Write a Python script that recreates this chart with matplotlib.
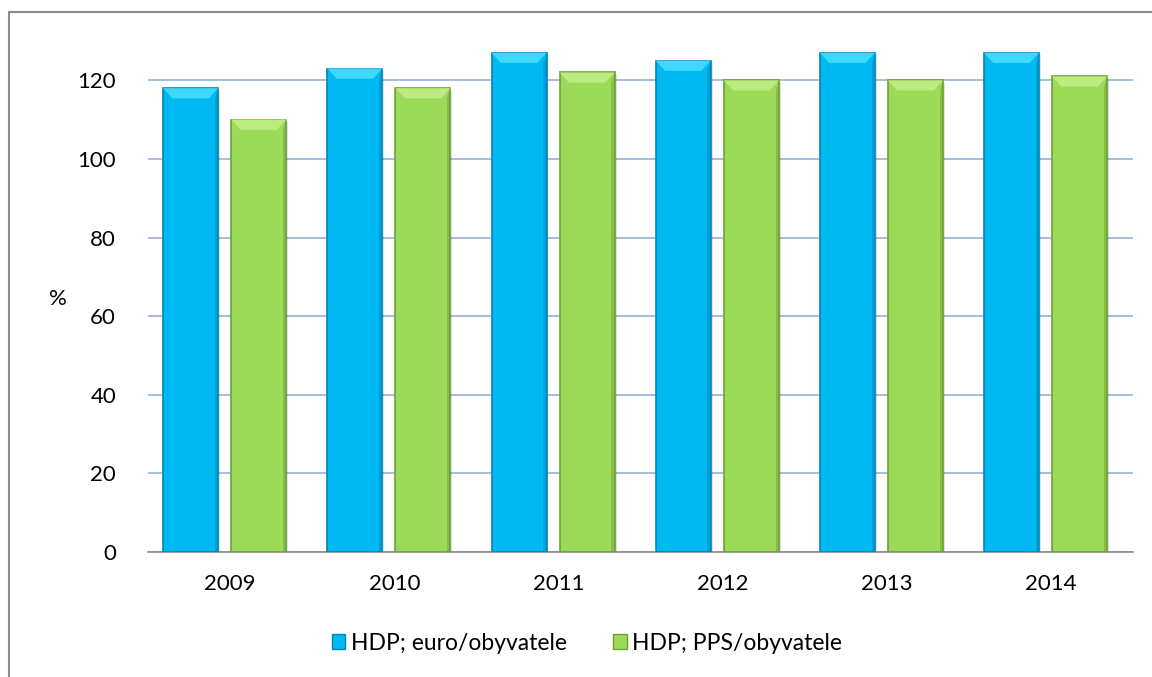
import matplotlib
matplotlib.use("Agg")
import matplotlib.pyplot as plt
from matplotlib.patches import Polygon, Rectangle, Patch
import numpy as np

years = ["2009", "2010", "2011", "2012", "2013", "2014"]
euro_per_capita = [118, 123, 127, 125, 127, 127]
pps_per_capita = [110, 118, 122, 120, 120, 121]
yticks = [0, 20, 40, 60, 80, 100, 120]
series_labels = ["HDP; euro/obyvatele", "HDP; PPS/obyvatele"]

BLUE = "#00B9F2"
BLUE_DARK = "#0086B5"
BLUE_CAP = "#3FD8FA"
GREEN = "#9BDB57"
GREEN_DARK = "#6E9F35"
GREEN_CAP = "#BCEB82"

plt.rcParams["font.family"] = ["Lato", "DejaVu Sans"]

fig = plt.figure(figsize=(11.52, 6.77), dpi=100)
ax = fig.add_axes([148 / 1152, 1 - 552 / 677, (1133 - 148) / 1152, (552 - 41) / 677])

# outer chart border (only top and left visible in the reference)
fig.patches.append(Rectangle((9 / 1152, -0.1), 1.2, 1 - 12 / 677 + 0.1,
                             transform=fig.transFigure, fill=False,
                             edgecolor="#8C8C8C", linewidth=1.5))

x = np.arange(len(years))
width = 0.335
offsets = [-0.24, 0.175]


def bevel_bars(xs, values, face, edge, cap):
    bars = ax.bar(xs, values, width=width, color=face, edgecolor=edge,
                  linewidth=1.2, zorder=3)
    # soft shadow
    ax.bar(xs + 0.012, values, width=width, color="#000000", alpha=0.12,
           zorder=2, bottom=-0.6)
    cap_h = 2.6
    inset = width * 0.17
    for xi, v in zip(xs, values):
        left, right = xi - width / 2, xi + width / 2
        top_poly = Polygon([(left, v), (right, v), (right - inset, v - cap_h),
                            (left + inset, v - cap_h)], closed=True,
                           facecolor=cap, edgecolor="none", zorder=4)
        ax.add_patch(top_poly)
        side = Polygon([(right, v), (right, 0), (right - inset * 0.35, 0),
                        (right - inset * 0.35, v - cap_h)], closed=True,
                       facecolor=edge, alpha=0.45, edgecolor="none", zorder=4)
        ax.add_patch(side)
    return bars


b1 = bevel_bars(x + offsets[0], euro_per_capita, BLUE, BLUE_DARK, BLUE_CAP)
b2 = bevel_bars(x + offsets[1], pps_per_capita, GREEN, GREEN_DARK, GREEN_CAP)

ax.set_xlim(-0.5, len(years) - 0.5)
ax.set_ylim(0, 130)
ax.set_yticks(yticks)
ax.set_xticks(x)
ax.set_xticklabels(years)
ax.yaxis.grid(True, color="#95B3D7", linewidth=1.2, zorder=0)
ax.set_axisbelow(True)
ax.tick_params(axis="both", length=0, labelsize=16, colors="black")
ax.tick_params(axis="y", pad=23)
ax.tick_params(axis="x", pad=16)

for name in ["top", "right", "left"]:
    ax.spines[name].set_visible(False)
ax.spines["bottom"].set_color("#8C8C8C")
ax.spines["bottom"].set_linewidth(1.2)

fig.text(58 / 1152, 1 - 299 / 677, "%", fontsize=16, ha="center", va="center")

handles = [Patch(facecolor=BLUE, edgecolor=BLUE_DARK),
           Patch(facecolor=GREEN, edgecolor=GREEN_DARK)]
fig.legend(handles, series_labels, loc="center", ncol=2,
           bbox_to_anchor=(587 / 1152, 1 - 643 / 677), frameon=False,
           fontsize=16.5, handlelength=0.6, handleheight=0.6,
           handletextpad=0.25, columnspacing=2.0)

fig.savefig("out.png", dpi=100, facecolor="white")
